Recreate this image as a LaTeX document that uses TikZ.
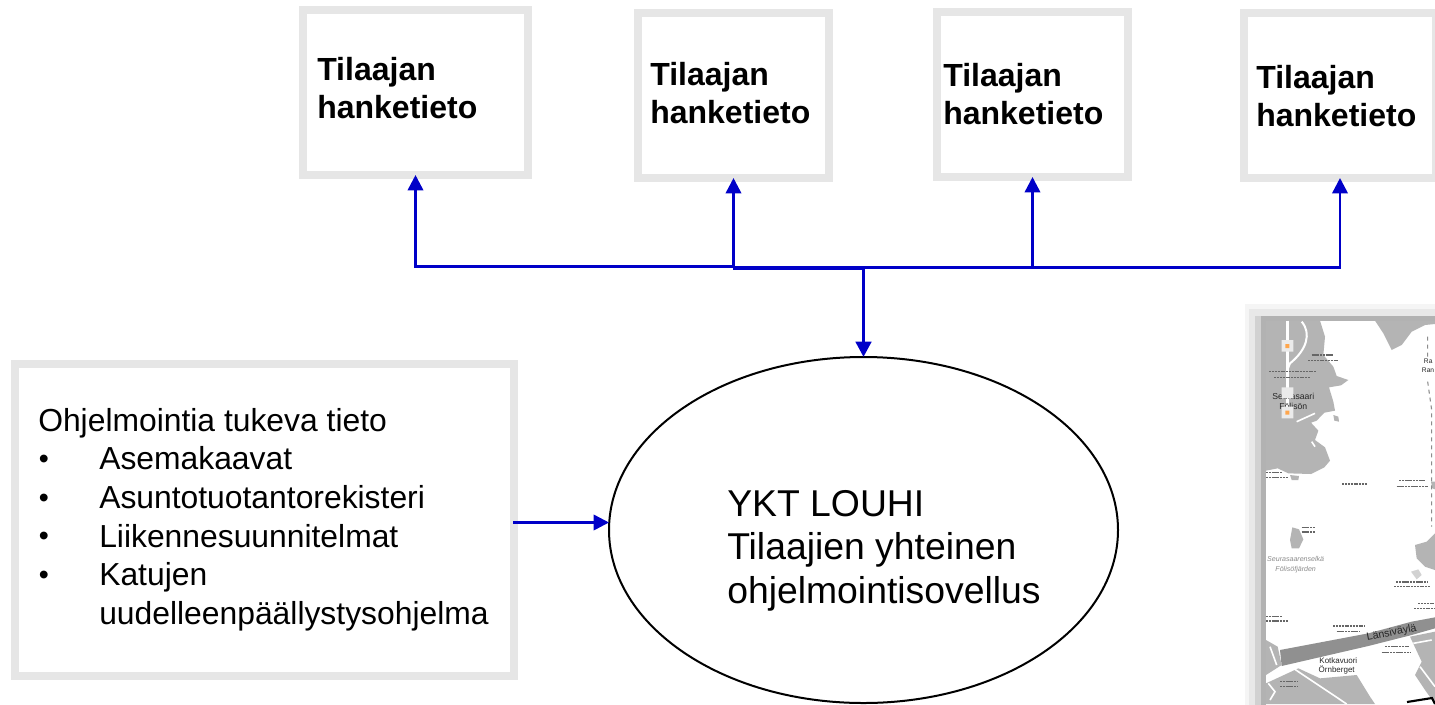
\documentclass[tikz,border=0pt]{standalone}
\usepackage{fontspec}
\setmainfont{Liberation Sans}
\usetikzlibrary{arrows.meta,shapes.geometric}
\definecolor{frameline}{HTML}{E6E6E6}
\definecolor{flowblue}{HTML}{0000C8}
\definecolor{mapland}{HTML}{B4B4B4}
\newcommand{\tukibullet}{\makebox[45.75pt][l]{\hspace{.5pt}\raisebox{.04em}{\scalebox{.9}{•}}}}
\tikzset{
	tietobox/.style={draw=frameline, line width=6pt, fill=white, outer sep=0pt, inner sep=0pt, minimum height=123.75pt},
	tietotext/.style={anchor=north west, inner sep=0pt, align=left, font=\bfseries\fontsize{24}{28.8}\selectfont},
	flow/.style={draw=flowblue, line width=1.9pt, -{Triangle[width=11.5pt,length=11.5pt]}},
	flowbold/.style={flow, line width=2.6pt},
	mapname/.style={inner sep=0pt, text=black!85, font=\fontsize{6}{6}\selectfont},
	maplabel/.style={draw=black!60, line width=1pt, dash pattern=on 1.6pt off .5pt},
}
\begin{document}
\begin{tikzpicture}[x=.75pt, y=-.75pt]
	\useasboundingbox (0,0) rectangle (1435,704);
	% upper boxes
	\node[tietobox, minimum width=168.75pt] (box1) at (415.5,92.5) {};
	\node[tietobox, minimum width=143.25pt] (box2) at (733.5,95.5) {};
	\node[tietobox, minimum width=143.25pt] (box3) at (1032.5,94.5) {};
	\node[tietobox, minimum width=144pt] (box4) at (1340,95.5) {};
	\node[tietotext] (text1) at (317,57) {Tilaajan\\hanketieto};
	\node[tietotext] (text2) at (650,62) {Tilaajan\\hanketieto};
	\node[tietotext] (text3) at (943,63) {Tilaajan\\hanketieto};
	\node[tietotext] (text4) at (1256,65) {Tilaajan\\hanketieto};
	% left box and ellipse
	\node[draw=frameline, line width=6pt, outer sep=0pt, minimum width=374.25pt, minimum height=234pt] (tuki) at (264.5,520) {};
	\node[anchor=north west, inner sep=0pt, align=left, font=\fontsize{23.88}{28.95}\selectfont] (tukitext) at (38,408) {Ohjelmointia tukeva tieto\\
		\tukibullet Asemakaavat\\
		\tukibullet Asuntotuotantorekisteri\\
		\tukibullet Liikennesuunnitelmat\\
		\tukibullet Katujen\\
		\hspace*{45.75pt}uudelleenpäällystysohjelma};
	\node[draw, ellipse, line width=1.5pt, outer sep=0pt, inner sep=0pt, minimum width=381.75pt, minimum height=259.5pt] (louhi) at (863.5,530) {};
	\node[anchor=north west, inner sep=0pt, align=left, font=\fontsize{28}{32.5}\selectfont] (louhitext) at (727,490) {YKT LOUHI\\Tilaajien yhteinen\\ohjelmointisovellus};
	% connectors
	\coordinate (hub) at (863.5,267.5);
	\coordinate (hubleft) at (733.5,266.5);
	\coordinate (feed) at (513,522.5);
	\draw[flow] (hubleft) -- ++(-318,0) -- (box1.south);
	\draw[flow] (hubleft) -- (box2.south);
	\draw[flow] (hub) -| (box3.south);
	\draw[flow] (hub) -| (box4.south);
	\draw[flowblue, line width=3pt] (732.5,267.5) -- (hub);
	\draw[flowbold] (hub) -- (louhi.north);
	\draw[flow] (feed) -- (feed -| louhi.west);
	% map, in coordinates of a 3x crop
	\begin{scope}[shift={(1235,300)}, x=.25pt, y=-.25pt]
		\fill[black!4] (30,12) rectangle (640,1230);
		\fill[black!9] (42,28) rectangle (640,1230);
		\fill[black!18] (60,47) rectangle (640,1230);
		\fill[black!30] (77,47) rectangle (640,1230);
		\fill[white] (93,62) rectangle (640,1230);
		\clip (93,62) rectangle (600,1212);
		% land
		\fill[mapland] (93,62) -- (255,62) -- (270,110) -- (265,165) -- (295,200) -- (305,228) -- (340,240) -- (318,256) -- (282,262) -- (295,305) -- (300,332) -- (268,338) -- (245,362) -- (228,368) -- (250,392) -- (240,420) -- (270,442) -- (285,482) -- (268,502) -- (228,522) -- (160,520) -- (128,505) -- (93,512) -- cycle;
		\fill[mapland] (420,62) -- (445,100) -- (470,150) -- (500,135) -- (530,95) -- (570,75) -- (600,72) -- (600,62) -- cycle;
		\fill[mapland] (165,525) -- (192,528) -- (190,540) -- (170,540) -- cycle;
		\fill[mapland] (295,345) -- (310,350) -- (312,365) -- (298,362) -- cycle;
		\fill[mapland] (165,720) -- (172,682) -- (192,688) -- (205,718) -- (192,745) -- (170,745) -- cycle;
		\fill[mapland] (540,735) -- (575,725) -- (600,700) -- (600,810) -- (570,800) -- (545,775) -- cycle;
		\fill[mapland] (588,545) -- (600,545) -- (600,568) -- (592,565) -- cycle;
		\fill[mapland!60] (528,815) -- (550,808) -- (560,825) -- (545,838) -- cycle;
		\fill[mapland!80!black] (135,1050) -- (400,1000) -- (530,965) -- (600,952) -- (600,985) -- (530,1005) -- (400,1038) -- (140,1098) -- cycle;
		\fill[mapland] (93,1020) -- (128,1040) -- (140,1095) -- (93,1125) -- cycle;
		\fill[mapland] (93,1150) -- (190,1105) -- (255,1135) -- (365,1125) -- (405,1190) -- (420,1212) -- (93,1212) -- cycle;
		\fill[mapland] (525,1010) -- (600,995) -- (600,1212) -- (570,1170) -- (540,1125) -- (560,1085) -- cycle;
		\draw[white, line width=2.5pt] (157,62) -- (157,340);
		\draw[white, line width=1.5pt] (200,65) .. controls (230,100) and (215,150) .. (165,190) -- (157,210);
		\draw[white, line width=1.2pt] (240,340) -- (185,365) (230,425) -- (240,440) (175,1105) -- (335,1212) (105,1040) -- (125,1095) (535,1030) -- (590,1020) (555,1100) -- (600,1160) (100,1150) -- (120,1175) -- (105,1200);
		\draw[black!45, line width=.8pt, dashed] (578,110) -- (578,175) (578,245) -- (590,330) -- (590,680);
		% map texts
		\draw[maplabel] (230,165) -- (293,165) (220,182) -- (308,182) (103,215) -- (245,215) (118,232) -- (225,232) (93,518) -- (140,518) (93,532) -- (160,532) (322,552) -- (395,552) (492,542) -- (570,542) (485,560) -- (578,560) (200,682) -- (240,682) (200,696) -- (240,696) (483,846) -- (580,846) (478,860) -- (585,860) (550,910) -- (600,910) (538,925) -- (600,925) (93,950) -- (140,950) (93,963) -- (158,963) (295,978) -- (390,978) (305,995) -- (375,995) (450,1040) -- (522,1040) (440,1058) -- (525,1058) (135,1145) -- (190,1145) (135,1160) -- (190,1160);
		\node[mapname, font=\fontsize{6.5}{6.5}\selectfont] (seurasaari) at (175,290) {Seurasaari};
		\node[mapname, font=\fontsize{6.5}{6.5}\selectfont] (folison) at (175,318) {Fölisön};
		\node[mapname, anchor=west, font=\fontsize{5}{5}\selectfont] (ra) at (566,185) {Ra};
		\node[mapname, anchor=west, font=\fontsize{5}{5}\selectfont] (ran) at (560,210) {Ran};
		\node[mapname, text=black!45, font=\itshape\fontsize{5.3}{5.3}\selectfont] (selka) at (182,778) {Seurasaarenselkä};
		\node[mapname, text=black!45, font=\itshape\fontsize{5.3}{5.3}\selectfont] (fjarden) at (182,810) {Fölisöfjärden};
		\node[mapname, rotate=11, font=\fontsize{8}{8}\selectfont] (lansivayla) at (470,1000) {Länsiväylä};
		\node[mapname] (kotkavuori) at (310,1083) {Kotkavuori};
		\node[mapname] (ornberget) at (305,1110) {Örnberget};
		% pins
		\fill[black!8] (140,120) rectangle (175,155) (140,262) rectangle (175,295) (140,320) rectangle (175,355);
		\fill[orange!70] (151,132) rectangle (163,144) (151,332) rectangle (163,344);
		\draw[black, line width=1.6pt] (516,1206) -- (591,1194) -- (600,1212);
	\end{scope}
\end{tikzpicture}
\end{document}
